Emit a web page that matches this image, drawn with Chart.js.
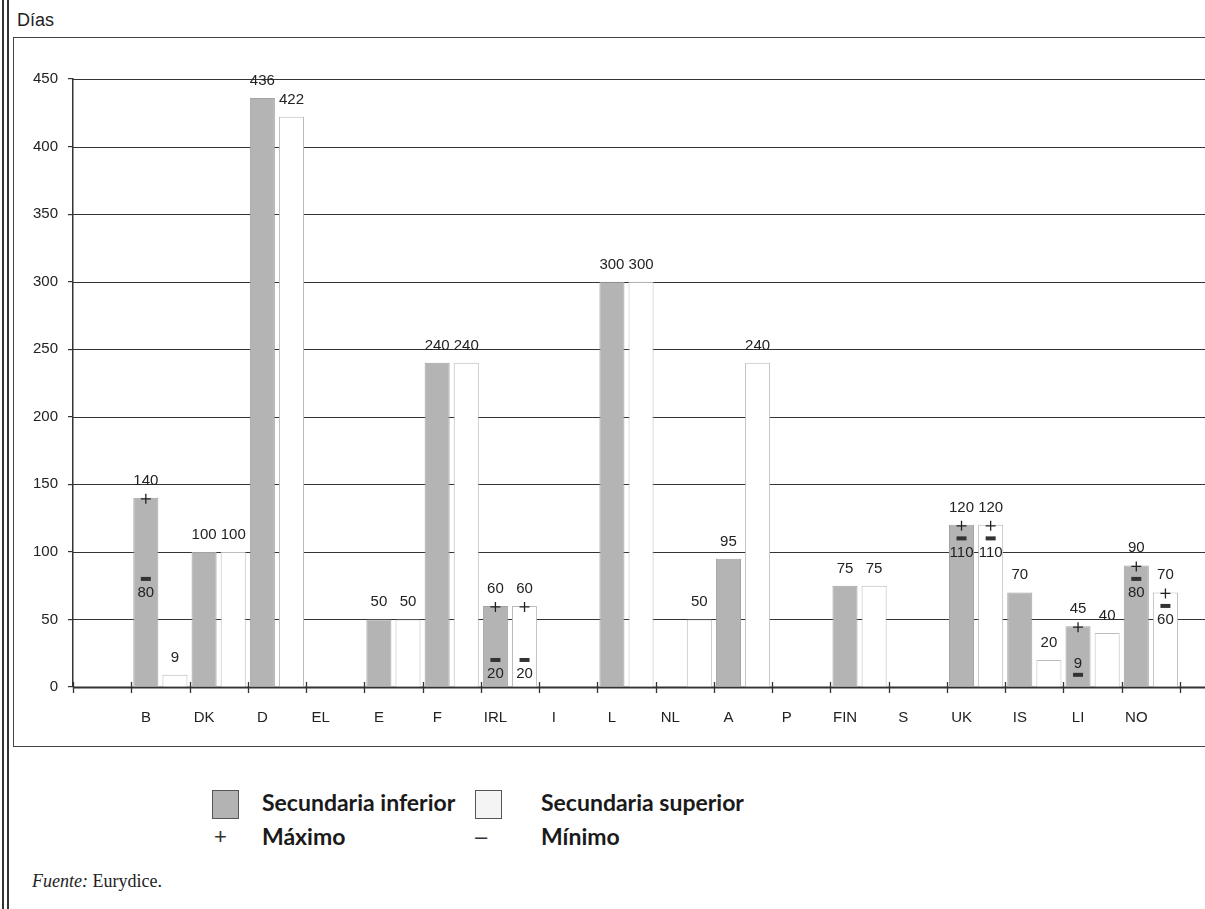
<!DOCTYPE html>
<html lang="es">
<head>
    <meta charset="UTF-8">
    <title>Días</title>
    <style>
        body {
            margin: 0;
            width: 1205px;
            height: 909px;
            background: #fff;
            position: relative;
            overflow: hidden;
            font-family: "Liberation Sans", Arial, sans-serif;
            color: #222;
        }
        .vline { position: absolute; top: 0; width: 2px; height: 909px; background: #333; }
        .marco {
            position: absolute;
            left: 13px; top: 37px;
            width: 1200px; height: 708px;
            border-left: 1.5px solid #444;
            border-top: 1.5px solid #444;
            border-bottom: 1.5px solid #444;
        }
        .dias { position: absolute; left: 17px; top: 10px; font-size: 18px; }
        #wrap { position: absolute; left: 14px; top: 38px; width: 1191px; height: 707px; }
        .leyenda { position: absolute; font-family: Lato, "Open Sans", sans-serif; font-weight: 700; font-size: 23px; color: #1a1a1a; }
        .caja { position: absolute; width: 25px; height: 27px; border: 1.5px solid #555; }
        .simbolo { position: absolute; font-size: 22px; color: #333; font-family: "Liberation Sans", sans-serif; }
        .fuente { position: absolute; left: 32px; top: 871px; font-family: "Liberation Serif", serif; font-size: 18px; color: #222; }
    </style>
</head>
<body>
    <div class="vline" style="left:2px"></div>
    <div class="vline" style="left:7px"></div>
    <div class="marco"></div>
    <div class="dias">Días</div>
    <div id="wrap"><canvas id="grafico"></canvas></div>

    <div class="caja" style="left:212px; top:790px; background:#b3b3b3;"></div>
    <div class="leyenda" style="left:262px; top:788px;">Secundaria inferior</div>
    <div class="caja" style="left:475px; top:790px; background:#f4f4f4;"></div>
    <div class="leyenda" style="left:541px; top:788px;">Secundaria superior</div>
    <div class="simbolo" style="left:214px; top:824px;">+</div>
    <div class="leyenda" style="left:262px; top:822px;">Máximo</div>
    <div class="simbolo" style="left:475px; top:824px;">–</div>
    <div class="leyenda" style="left:541px; top:822px;">Mínimo</div>
    <div class="fuente"><i>Fuente:</i> Eurydice.</div>

    <script src="https://cdn.jsdelivr.net/npm/chart.js"></script>
    <script>
        const paises = ['B', 'DK', 'D', 'EL', 'E', 'F', 'IRL', 'I', 'L', 'NL', 'A', 'P', 'FIN', 'S', 'UK', 'IS', 'LI', 'NO'];
        const inferior = [140, 100, 436, null, 50, 240, 60, null, 300, null, 95, null, 75, null, 120, 70, 45, 90];
        const superior = [9, 100, 422, null, 50, 240, 60, null, 300, 50, 240, null, 75, null, 120, 20, 40, 70];
        const maxInferior = [140, null, null, null, null, null, 60, null, null, null, null, null, null, null, 120, null, 45, 90];
        const minInferior = [80, null, null, null, null, null, 20, null, null, null, null, null, null, null, 110, null, 9, 80];
        const maxSuperior = [null, null, null, null, null, null, 60, null, null, null, null, null, null, null, 120, null, null, 70];
        const minSuperior = [null, null, null, null, null, null, 20, null, null, null, null, null, null, null, 110, null, null, 60];
        const yTicks = [0, 50, 100, 150, 200, 250, 300, 350, 400, 450];

        // the chart leaves one empty slot before B
        const etiquetas = [''].concat(paises);
        const extremos = [
            { max: [null].concat(maxInferior), min: [null].concat(minInferior) },
            { max: [null].concat(maxSuperior), min: [null].concat(minSuperior) }
        ];

        const marcas = {
            id: 'marcas',
            beforeDatasetsDraw(chart) {
                const { ctx, chartArea, scales: { y } } = chart;
                ctx.save();
                ctx.strokeStyle = '#333';
                yTicks.forEach(v => {
                    const py = Math.round(y.getPixelForValue(v)) + 0.5;
                    ctx.lineWidth = v === 0 ? 2 : 1.2;
                    ctx.beginPath();
                    ctx.moveTo(chartArea.left, py);
                    ctx.lineTo(chart.width, py);
                    ctx.stroke();
                });
                ctx.restore();
            },
            afterDatasetsDraw(chart) {
                const { ctx, scales: { x, y } } = chart;
                ctx.save();
                // tick marks crossing the x axis
                const y0 = y.getPixelForValue(0);
                ctx.strokeStyle = '#333';
                ctx.lineWidth = 1.3;
                for (let k = 0; k <= etiquetas.length; k++) {
                    const px = Math.round(x.getPixelForValue(k - 0.5)) + 0.5;
                    ctx.beginPath();
                    ctx.moveTo(px, y0 - 5);
                    ctx.lineTo(px, y0 + 6);
                    ctx.stroke();
                }

                ctx.font = '15px "Liberation Sans", Arial, sans-serif';
                ctx.fillStyle = '#222';
                ctx.textAlign = 'center';
                chart.data.datasets.forEach((ds, d) => {
                    const meta = chart.getDatasetMeta(d);
                    meta.data.forEach((bar, i) => {
                        const v = ds.data[i];
                        if (v == null) return;
                        ctx.textBaseline = 'alphabetic';
                        ctx.fillStyle = '#222';
                        ctx.fillText(String(v), bar.x, bar.y - 13);

                        const mx = extremos[d].max[i];
                        if (mx != null) {
                            const py = y.getPixelForValue(mx) + 1;
                            ctx.strokeStyle = '#222';
                            ctx.lineWidth = 1.3;
                            ctx.beginPath();
                            ctx.moveTo(bar.x - 5, py); ctx.lineTo(bar.x + 5, py);
                            ctx.moveTo(bar.x, py - 5); ctx.lineTo(bar.x, py + 5);
                            ctx.stroke();
                        }
                        const mn = extremos[d].min[i];
                        if (mn != null) {
                            const py = y.getPixelForValue(mn);
                            ctx.fillStyle = '#333';
                            ctx.fillRect(bar.x - 5, py - 2, 10, 4);
                            ctx.fillStyle = '#222';
                            ctx.textBaseline = 'middle';
                            const abajo = py + 14 + 6 < y0;
                            ctx.fillText(String(mn), bar.x, abajo ? py + 14 : py - 11);
                        }
                    });
                });
                ctx.restore();
            }
        };

        new Chart(document.getElementById('grafico'), {
            type: 'bar',
            data: {
                labels: etiquetas,
                datasets: [
                    {
                        label: 'Secundaria inferior',
                        data: [null].concat(inferior),
                        backgroundColor: '#b4b4b4',
                        borderColor: '#a2a2a2',
                        borderWidth: 1
                    },
                    {
                        label: 'Secundaria superior',
                        data: [null].concat(superior),
                        backgroundColor: '#ffffff',
                        borderColor: '#bcbcbc',
                        borderWidth: 1
                    }
                ]
            },
            options: {
                responsive: true,
                maintainAspectRatio: false,
                animation: false,
                layout: { padding: { top: 41, right: 25, left: 0, bottom: 0 } },
                datasets: { bar: { barPercentage: 0.86, categoryPercentage: 1 } },
                plugins: {
                    legend: { display: false },
                    tooltip: { enabled: false }
                },
                scales: {
                    x: {
                        grid: { display: false },
                        border: { display: false },
                        ticks: {
                            color: '#222',
                            font: { family: '"Liberation Sans", Arial, sans-serif', size: 15 },
                            labelOffset: -14.5,
                            padding: 14,
                            maxRotation: 0,
                            autoSkip: false
                        },
                        afterFit(s) { s.height = 58; }
                    },
                    y: {
                        min: 0,
                        max: 450,
                        grid: { drawOnChartArea: false, drawTicks: true, tickLength: 5, color: '#333', lineWidth: 1.2 },
                        border: { display: true, color: '#333', width: 1.5 },
                        ticks: {
                            stepSize: 50,
                            color: '#222',
                            padding: 10,
                            font: { family: '"Liberation Sans", Arial, sans-serif', size: 15 }
                        },
                        afterFit(s) { s.width = 59; }
                    }
                }
            },
            plugins: [marcas]
        });
    </script>
</body>
</html>
